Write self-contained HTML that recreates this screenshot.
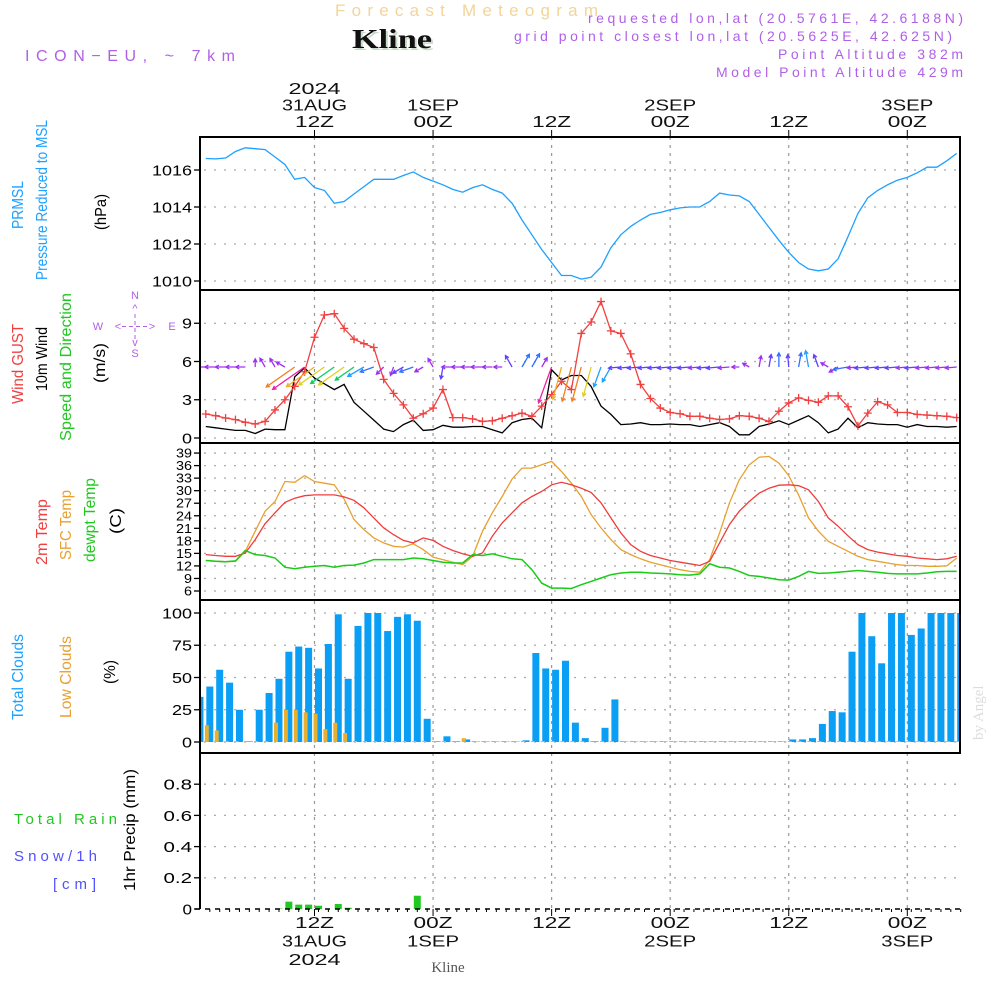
<!DOCTYPE html>
<html><head><meta charset="utf-8"><style>
html,body{margin:0;padding:0;background:#fff;width:1000px;height:1000px;overflow:hidden}
svg{display:block}
text{font-family:"Liberation Sans",sans-serif}
</style></head><body>
<svg id="chart" width="1000" height="1000" viewBox="0 0 1000 1000" xmlns="http://www.w3.org/2000/svg">
<text x="335" y="16" font-size="17" fill="#f3d49a" textLength="263" lengthAdjust="spacing">Forecast Meteogram</text>
<text x="354" y="50" style="font-family:'Liberation Serif',serif" font-weight="bold" font-size="27" fill="#c9dcc9" textLength="80" lengthAdjust="spacingAndGlyphs">Kline</text>
<text x="352" y="48" style="font-family:'Liberation Serif',serif" font-weight="bold" font-size="27" fill="#111" textLength="80" lengthAdjust="spacingAndGlyphs">Kline</text>
<text x="25" y="61" font-size="16" fill="#b060e8" textLength="210" lengthAdjust="spacing">ICON−EU, ~ 7km</text>
<g fill="#b060e8" font-size="14">
<text x="588" y="23" textLength="375" lengthAdjust="spacing">requested lon,lat (20.5761E, 42.6188N)</text>
<text x="514" y="41" textLength="438" lengthAdjust="spacing">grid point closest lon,lat (20.5625E, 42.625N)</text>
<text x="778" y="59" textLength="185" lengthAdjust="spacing">Point Altitude 382m</text>
<text x="716" y="77" textLength="247" lengthAdjust="spacing">Model Point Altitude 429m</text>
</g>
<text transform="translate(983,740) rotate(-90)" style="font-family:'Liberation Serif',serif" font-size="15" fill="#dddddd">by Angel</text>
<text x="448" y="972" style="font-family:'Liberation Serif',serif" font-size="15" fill="#555" text-anchor="middle">Kline</text>
<g id="g"></g>
</svg>
<script>
const pressure=[1016.62,1016.6,1016.65,1017.0,1017.2,1017.15,1017.1,1016.7,1016.3,1015.5,1015.6,1015.05,1014.9,1014.2,1014.3,1014.7,1015.1,1015.5,1015.5,1015.5,1015.7,1015.9,1015.6,1015.4,1015.2,1014.95,1014.8,1015.05,1015.2,1014.95,1014.75,1014.2,1013.3,1012.5,1011.7,1011.0,1010.3,1010.3,1010.1,1010.2,1010.75,1011.8,1012.5,1012.95,1013.3,1013.6,1013.7,1013.85,1013.95,1014.0,1014.0,1014.3,1014.75,1014.65,1014.6,1014.3,1013.6,1012.9,1012.2,1011.55,1011.0,1010.65,1010.55,1010.65,1011.2,1012.4,1013.65,1014.5,1014.9,1015.2,1015.45,1015.6,1015.85,1016.15,1016.15,1016.5,1016.9];
const windGust=[1.88,1.75,1.57,1.44,1.23,1.1,1.3,2.2,3.0,4.05,5.2,7.9,9.65,9.75,8.6,7.75,7.4,7.1,4.6,3.5,2.6,1.55,1.9,2.35,3.8,1.6,1.6,1.5,1.3,1.35,1.55,1.75,1.95,1.7,2.5,3.4,4.45,3.8,8.2,9.1,10.7,8.4,8.2,6.6,4.2,3.1,2.35,2.0,1.9,1.7,1.7,1.55,1.45,1.5,1.75,1.7,1.55,1.3,2.1,2.75,3.15,2.95,2.8,3.3,3.3,2.45,0.95,1.95,2.85,2.6,2.0,2.0,1.85,1.8,1.75,1.7,1.6];
const windSpeed=[0.9,0.8,0.7,0.6,0.6,0.35,0.7,0.65,0.65,4.8,5.5,4.7,4.25,3.8,4.2,2.8,2.1,1.4,0.7,0.5,1.05,1.4,0.6,0.65,1.0,0.85,0.85,0.9,0.9,0.65,0.4,1.2,1.45,1.55,0.8,5.35,4.55,4.9,4.9,4.05,2.5,1.85,1.05,1.1,1.2,1.05,1.05,1.1,1.05,1.05,0.9,1.05,1.2,0.9,0.25,0.25,0.9,1.1,1.35,1.05,1.4,1.75,1.2,0.4,0.7,1.55,0.8,1.2,1.1,1.05,1.05,0.85,1.05,0.9,0.9,0.85,0.9];
const windDir=[90,90,90,90,90,180,150,150,120,55,55,55,55,55,55,55,60,70,45,20,60,70,60,150,10,90,90,90,90,90,90,150,210,210,210,20,15,15,15,15,20,30,85,85,85,85,85,85,85,85,85,85,85,85,90,120,190,190,180,175,190,170,160,120,60,80,85,85,85,85,85,85,85,85,85,85,85];
const temp2m=[14.7,14.5,14.3,14.3,15.1,18.3,22.1,24.7,27.2,28.2,28.8,29.0,29.0,29.0,28.5,27.7,25.9,23.5,21.1,19.5,18.1,17.5,18.7,18.1,16.7,15.7,14.9,14.3,15.1,19.1,22.3,24.7,27.1,28.6,29.8,31.4,32.0,31.4,30.6,29.6,27.1,23.5,19.9,17.1,15.5,14.5,13.9,13.3,12.9,12.5,12.1,13.1,17.5,21.9,25.1,27.4,29.4,30.6,31.3,31.4,31.2,30.2,27.4,23.5,21.5,19.2,17.1,15.9,15.3,14.9,14.5,14.3,13.9,13.7,13.5,13.7,14.3];
const tempSfc=[13.3,13.1,13.0,13.1,15.5,20.3,25.1,27.4,32.2,32.0,33.6,32.2,31.8,31.4,28.0,23.1,20.7,18.7,17.5,16.7,16.5,17.3,15.9,14.1,13.5,12.9,12.3,14.3,20.3,24.7,28.6,32.8,35.4,35.4,36.2,37.0,34.6,31.8,28.6,24.3,21.1,18.3,15.9,14.7,13.7,12.9,12.3,11.7,11.1,10.7,10.5,13.5,19.9,27.1,32.6,36.2,38.0,38.2,36.6,33.6,29.0,23.5,20.3,17.9,16.7,15.5,14.3,13.5,13.1,12.7,12.3,12.1,12.1,11.9,11.9,12.0,13.9];
const dewpoint=[13.3,13.1,13.0,13.2,15.7,14.7,14.5,13.9,11.7,11.3,11.7,11.9,12.1,11.7,12.1,12.2,12.7,13.5,13.5,13.5,13.5,13.9,13.7,13.3,12.9,12.7,12.7,14.7,14.5,14.9,14.3,13.7,13.5,11.1,7.9,6.7,6.7,6.6,7.5,8.3,9.1,9.9,10.3,10.5,10.5,10.3,10.2,10.1,9.9,9.8,10.1,12.5,11.7,11.5,10.7,9.7,9.5,9.1,8.7,8.6,9.5,10.7,10.2,10.3,10.5,10.7,10.9,10.7,10.5,10.2,10.1,10.1,10.1,10.3,10.6,10.7,10.7];
const totalClouds=[35,43,56,46,25,0.5,25,38,49,70,74,73,57,76,99,49,90,100,100,86,97,99,94,18,0.5,4.4,0.5,2,0.3,0.3,0.3,0.3,0.3,1.3,69,57,56,63,15,3,0.5,11,33,0.3,0.3,0.3,0.3,0.3,0.3,0.3,0.3,0.3,0.3,0.3,0.3,0.3,0.3,0.3,0.3,0.3,2,2,3,14,24,23,70,100,82,61,100,100,83,88,100,100,100,100];
const lowClouds=[13,13,9,0,0,0,0,0,15,25,25,23,22,10,15,7,0,0,0,0,0,0,0,0,0,0,0,3,0,0,0,0,0,0,0,0,0,0,0,0,0,0,0,0,0,0,0,0,0,0,0,0,0,0,0,0,0,0,0,0,0,0,0,0,0,0,0,0,0,0,0,0,0,0,0,0,0,0];
const precip=[0,0,0,0,0,0,0,0,0.003,0.047,0.028,0.028,0.021,0,0.032,0.008,0,0,0,0,0,0,0.085,0,0,0,0,0,0,0,0,0,0,0,0,0,0,0,0,0,0,0,0,0,0,0,0,0,0,0,0,0,0,0,0,0,0,0,0,0,0,0,0,0,0,0,0,0,0,0,0,0,0,0,0,0,0];
const pTicks=[1010,1012,1014,1016];
const wTicks=[0,3,6,9];
const tTicks=[6,9,12,15,18,21,24,27,30,33,36,39];
const cTicks=[0,25,50,75,100];
const rTicks=[0,0.2,0.4,0.6,0.8];
const timeHours=[12,24,36,48,60,72];
const topLabels=[["2024","31AUG","12Z"],["1SEP","00Z"],["12Z"],["2SEP","00Z"],["12Z"],["3SEP","00Z"]];
const botLabels=[["12Z","31AUG","2024"],["00Z","1SEP"],["12Z"],["00Z","2SEP"],["12Z"],["00Z","3SEP"]];

const X0=200,X1=960;
const xh=h=>314.5+(h-12)*9.88;
const yP=p=>170+(1016-p)*18.5;
const yW=v=>438-v*12.75;
const yT=t=>591-(t-6)*4.18;
const yC=c=>742-c*1.29;
const yR=m=>909-m*156;
const NS="http://www.w3.org/2000/svg";
const g=document.getElementById('g');
function mk(tag,attrs,parent){const e=document.createElementNS(NS,tag);for(const k in attrs)e.setAttribute(k,attrs[k]);(parent||g).appendChild(e);return e;}
function txt(s,attrs,parent){const e=mk('text',attrs,parent);e.textContent=s;return e;}

const panels=[[137,290],[290,443],[443,600],[600,753],[753,909]];
const defs=mk('defs',{});
const cp=mk('clipPath',{id:'plot'},defs);mk('rect',{x:X0,y:137,width:X1-X0,height:772},cp);

const grid=mk('g',{stroke:'#aaa','stroke-width':1.3,'stroke-dasharray':'2 8'});


function hgrid(vals,fy){vals.forEach(v=>{const y=fy(v);const l=mk('line',{x1:X0+4,x2:X1,y1:y,y2:y},grid);});}
hgrid(pTicks,yP);hgrid(wTicks,yW);hgrid(tTicks,yT);hgrid(cTicks,yC);hgrid(rTicks.slice(1),yR);
const vgrid=mk('g',{stroke:'#999','stroke-width':1.2,'stroke-dasharray':'3 5'});
timeHours.forEach(h=>{const l=mk('line',{x1:xh(h),x2:xh(h),y1:137,y2:909},vgrid);});

const plot=mk('g',{'clip-path':'url(#plot)'});



function line(arr,fy,color,name,w){const pts=arr.map((v,i)=>xh(i+1).toFixed(1)+','+fy(v).toFixed(1)).join(' ');const e=mk('polyline',{points:pts,fill:'none',stroke:color,'stroke-width':w||1.3},plot);return e;}
line(pressure,yP,'#1ea0ff','pressure-line');
const bw=7;
totalClouds.forEach((c,k)=>{const x=xh(k)+4;const r=mk('rect',{x:x-bw/2,y:yC(c),width:bw,height:742-yC(c),fill:'#0a9ef5'},plot);});
lowClouds.forEach((c,k)=>{const x=xh(k)+4;const h=Math.max(742-yC(c),1);const r=mk('rect',{x:x-5,y:742-h,width:4,height:h,fill:'#e8b030'},plot);});
precip.forEach((m,k)=>{if(m<=0)return;const x=xh(k)+4;const r=mk('rect',{x:x-3.5,y:yR(m),width:7,height:909-yR(m),fill:'#22c822'},plot);});
line(tempSfc,yT,'#e8a030','sfc-temp-line');
line(temp2m,yT,'#f03c3c','temp-2m-line');
line(dewpoint,yT,'#18cc18','dewpoint-line',1.5);
line(windSpeed,yW,'#000','wind-speed-line');
line(windGust,yW,'#f04040','wind-gust-line');
windGust.forEach((v,i)=>{const x=xh(i+1),y=yW(v);const p=mk('path',{d:`M${x-4} ${y}h8M${x} ${y-4}v8`,stroke:'#f04040','stroke-width':1.3},plot);});
function wcol(s){if(s<1)return'#a030f0';if(s<1.3)return'#6040ff';if(s<1.6)return'#3070ff';if(s<2.6)return'#20a0ff';if(s<3.9)return'#10cc60';if(s<4.3)return'#e0d020';if(s<4.8)return'#f0b020';if(s<5.3)return'#f08020';return'#f020a0';}
windDir.forEach((d,i)=>{const s=windSpeed[i];const x=xh(i+1),y=367;const L=6+s*6;const r=d*Math.PI/180;const dx=-Math.sin(r),dy=Math.cos(r);const x2=x+dx*L,y2=y+dy*L;const a=0.5,hl=4;
const h1x=x2-hl*(dx*Math.cos(a)-dy*Math.sin(a)),h1y=y2-hl*(dy*Math.cos(a)+dx*Math.sin(a));
const h2x=x2-hl*(dx*Math.cos(a)+dy*Math.sin(a)),h2y=y2-hl*(dy*Math.cos(a)-dx*Math.sin(a));
const p=mk('path',{d:`M${x} ${y}L${x2} ${y2}M${h1x} ${h1y}L${x2} ${y2}L${h2x} ${h2y}`,stroke:wcol(s),'stroke-width':1.3,fill:'none'},plot);
});

panels.slice(0,4).forEach(([a,b])=>{const r=mk('rect',{x:X0,y:a,width:X1-X0,height:b-a,fill:'none',stroke:'#000','stroke-width':2});});
mk('line',{x1:X0,x2:X0,y1:753,y2:909,stroke:'#000','stroke-width':2});
const base=mk('line',{x1:X0-5,x2:X1,y1:909,y2:909,stroke:'#000','stroke-width':1.5,'stroke-dasharray':'5 5'});

function yticks(vals,fy,name,fs,fmt,cw){vals.forEach(v=>{const y=fy(v);mk('line',{x1:X0-6,x2:X0,y1:y,y2:y,stroke:'#000','stroke-width':1.3});const s=fmt?fmt(v):String(v);const t=txt(s,{x:X0-8,y:y+fs*0.36,'font-size':fs,'text-anchor':'end',fill:'#000',textLength:s.length*cw,lengthAdjust:'spacingAndGlyphs'});});}
yticks(pTicks,yP,'pressure-tick',15,null,10);yticks(wTicks,yW,'wind-tick',15,null,10);yticks(tTicks,yT,'temp-tick',12.5,null,8);yticks(cTicks,yC,'cloud-tick',15,null,10);yticks(rTicks,yR,'precip-tick',15,v=>v===0?'0':v.toFixed(1),9.5);
timeHours.forEach((h,j)=>{const x=xh(h);mk('line',{x1:x,x2:x,y1:130,y2:137,stroke:'#000'});mk('line',{x1:x,x2:x,y1:909,y2:916,stroke:'#000'});
const tl=topLabels[j];tl.forEach((s,n)=>{const t=txt(s,{x:x-s.length*6.5,y:127-(tl.length-1-n)*16.5,'font-size':16,fill:'#111',textLength:s.length*13,lengthAdjust:'spacingAndGlyphs'});});
botLabels[j].forEach((s,n)=>{const t=txt(s,{x:x-s.length*6.5,y:928+n*18.5,'font-size':16,fill:'#111',textLength:s.length*13,lengthAdjust:'spacingAndGlyphs'});});});
for(let h=1;h<=77;h++){mk('line',{x1:xh(h)+4,x2:xh(h)+4,y1:909,y2:912,stroke:'#000'});}
function rlab(s,x,y,color,fs,len,name){const a={transform:`translate(${x},${y}) rotate(-90)`,'font-size':fs,fill:color,'text-anchor':'middle'};if(len){a.textLength=len;a.lengthAdjust='spacingAndGlyphs';}const t=txt(s,a);}
rlab('PRMSL',23,205,'#1ea0ff',16,48,'prmsl-label');
rlab('Pressure Reduced to MSL',47,200,'#1ea0ff',16,160,'pressure-label');
rlab('(hPa)',106,212,'#000',16,36,'hpa-unit');
rlab('Wind GUST',23,364,'#f04040',16,80,'gust-label');
rlab('10m Wind',47,359,'#000',16,64,'wind-label');
rlab('Speed and Direction',71,367,'#22c822',16,148,'speed-direction-label');
rlab('(m/s)',105,363,'#000',16,40,'wind-unit');
rlab('2m Temp',47,532,'#f04040',16,66,'temp-2m-label');
rlab('SFC Temp',71,525,'#e8a030',16,70,'sfc-temp-label');
rlab('dewpt Temp',95,520,'#22c822',16,84,'dewpt-label');
rlab('(C)',121,521,'#000',16,26,'temp-unit');
rlab('Total Clouds',23,677,'#1ea0ff',16,86,'total-clouds-label');
rlab('Low Clouds',71,677,'#e8a030',16,82,'low-clouds-label');
rlab('(%)',115,672,'#000',16,24,'cloud-unit');
rlab('1hr Precip (mm)',135,830,'#000',16,122,'precip-label');
function hl(s,x,y,c,name,len){const t=txt(s,{x:x,y:y,'font-size':15,fill:c,textLength:len,lengthAdjust:'spacing'});}
hl('Total   Rain',14,824,'#22c822','rain-legend',103);
hl('Snow/1h',14,861,'#5050ff','snow-legend',83);
hl('[cm]',53,889,'#5050ff','snow-unit',43);
const cg=mk('g',{fill:'#b060e8','font-size':11,'text-anchor':'middle'});

txt('N',{x:135,y:299},cg);txt('S',{x:135,y:357},cg);
txt('W',{x:98,y:330},cg);txt('E',{x:172,y:330},cg);
txt('^',{x:135,y:312},cg);txt('v',{x:135,y:346},cg);
txt('<',{x:118,y:330},cg);txt('>',{x:152,y:330},cg);
mk('path',{d:'M122 326.5h26M135 314v26',stroke:'#b060e8','stroke-width':1,'stroke-dasharray':'4 3'},cg);
</script>
</body></html>
